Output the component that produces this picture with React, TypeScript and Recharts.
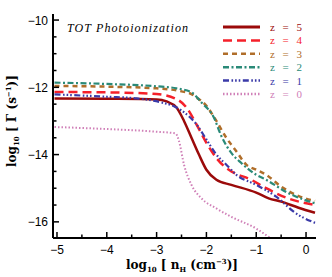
import React from "react";
import { LineChart, Line, XAxis, YAxis, Legend, Customized } from "recharts";

const seriesNames = ["z = 5", "z = 4", "z = 3", "z = 2", "z = 1", "z = 0"];
const seriesColors = ["#9b0a0a", "#f5202a", "#b06e2a", "#2a8a78", "#3a3aa8", "#d080b8"];

const z5X = [-5.05, -4, -3, -2.8, -2.6, -2.45, -2.3, -2.15, -2.0, -1.8, -1.5, -1.0, -0.75, -0.5, -0.15, 0.18];
const z5Y = [-12.33, -12.34, -12.36, -12.42, -12.6, -13.0, -13.5, -14.0, -14.45, -14.75, -14.9, -15.13, -15.3, -15.4, -15.58, -15.73];

const z4X = [-5.05, -4, -3, -2.6, -2.4, -2.2, -2.0, -1.8, -1.6, -1.5, -1.1, -0.8, -0.4, 0.18];
const z4Y = [-12.14, -12.15, -12.2, -12.35, -12.6, -13.1, -13.65, -14.1, -14.4, -14.5, -14.75, -15.0, -15.28, -15.5];

const z3X = [-5.05, -4, -3, -2.5, -2.3, -2.2, -2.0, -1.8, -1.6, -1.4, -1.2, -1.0, -0.8, -0.5, -0.2, 0.18];
const z3Y = [-11.96, -11.98, -12.03, -12.12, -12.2, -12.3, -12.55, -13.0, -13.5, -13.9, -14.3, -14.45, -14.6, -14.95, -15.2, -15.38];

const z2X = [-5.05, -4, -3, -2.6, -2.3, -2.1, -1.85, -1.7, -1.5, -1.3, -1.0, -0.8, -0.35, 0.18];
const z2Y = [-11.86, -11.9, -11.97, -12.03, -12.15, -12.45, -12.9, -13.45, -13.95, -14.25, -14.6, -14.75, -15.15, -15.45];

const z1X = [-5.05, -4, -3.4, -2.9, -2.6, -2.4, -2.2, -2.0, -1.8, -1.6, -1.4, -1.0, -0.6, -0.2, 0.18];
const z1Y = [-12.21, -12.28, -12.33, -12.45, -12.6, -12.8, -13.1, -13.55, -14.0, -14.3, -14.6, -14.9, -15.25, -15.75, -16.03];

const z0X = [-5.05, -4, -3, -2.62, -2.55, -2.45, -2.3, -2.1, -1.8, -1.5, -1.0, -0.7];
const z0Y = [-13.18, -13.24, -13.32, -13.37, -13.6, -14.3, -14.9, -15.3, -15.6, -15.85, -16.2, -16.5];

const xTicks = [-5, -4.5, -4, -3.5, -3, -2.5, -2, -1.5, -1, -0.5, 0];
const yTicks = [-16, -15.5, -15, -14.5, -14, -13.5, -13, -12.5, -12, -11.5, -11, -10.5, -10];
const xLabelTicks = [-5, -4, -3, -2, -1, 0];
const yLabelTicks = [-16, -14, -12, -10];

const seriesXs = [z5X, z4X, z3X, z2X, z1X, z0X];
const seriesYs = [z5Y, z4Y, z3Y, z2Y, z1Y, z0Y];

const dashes = ["", "9 5", "5 4", "6 2.5 2 2.5", "6 2.5 1.6 2 1.6 2 1.6 2.5", "1.5 2"];
const widths = [2.5, 2.5, 2.5, 2.2, 2.2, 2];

const build = (xs: number[], ys: number[]) => xs.map((x, i) => ({ x, y: ys[i] }));

const fmt = (v: number) => (v < 0 ? "\u2212" + Math.abs(v) : String(v));

const BottomTick = (props: any) => {
  const { x, y, payload } = props;
  const v = payload.value;
  const major = xLabelTicks.includes(v);
  return (
    <g>
      <line x1={x} x2={x} y1={y} y2={y - (major ? 6 : 3.5)} stroke="#000" strokeWidth={1.5} />
      {major && (
        <text x={x} y={y + 16} textAnchor="middle" fontSize={12} fontFamily="'Liberation Sans', sans-serif" fill="#000">
          {fmt(v)}
        </text>
      )}
    </g>
  );
};

const TopTick = (props: any) => {
  const { x, y, payload } = props;
  const major = xLabelTicks.includes(payload.value);
  return <line x1={x} x2={x} y1={y} y2={y + (major ? 6 : 3.5)} stroke="#000" strokeWidth={1.5} />;
};

const LeftTick = (props: any) => {
  const { x, y, payload } = props;
  const v = payload.value;
  const major = yLabelTicks.includes(v);
  return (
    <g>
      <line x1={x} x2={x + (major ? 6 : 3.5)} y1={y} y2={y} stroke="#000" strokeWidth={1.5} />
      {major && (
        <text x={x - 5} y={y + 4.5} textAnchor="end" fontSize={12} fontFamily="'Liberation Sans', sans-serif" fill="#000">
          {fmt(v)}
        </text>
      )}
    </g>
  );
};

const RightTick = (props: any) => {
  const { x, y, payload } = props;
  const major = yLabelTicks.includes(payload.value);
  return <line x1={x} x2={x - (major ? 6 : 3.5)} y1={y} y2={y} stroke="#000" strokeWidth={1.5} />;
};

const LegendContent = () => (
  <svg width={100} height={84} style={{ display: "block" }}>
    {seriesNames.map((name, i) => {
      const cy = 6 + i * 13.4;
      return (
        <g key={name}>
          <line x1={0} x2={37} y1={cy} y2={cy} stroke={seriesColors[i]} strokeWidth={i === 0 ? 3 : 2.5} strokeDasharray={dashes[i] || undefined} />
          <text x={47} y={cy + 4} fontSize={11} fontFamily="'Liberation Serif', serif" fill={seriesColors[i]} textLength={32} lengthAdjust="spacing">
            {name}
          </text>
        </g>
      );
    })}
  </svg>
);

const Title = () => (
  <text x={67} y={32} fontSize={12} fontStyle="italic" fontFamily="'Liberation Serif', serif" fill="#000" textLength={121} lengthAdjust="spacing">
    TOT Photoionization
  </text>
);

const XLabel = () => (
  <text x={182} y={269} textAnchor="middle" fontSize={12} fontWeight="bold" fontFamily="'DejaVu Serif', serif" fill="#000">
    log<tspan fontSize={7} dy={3}>10</tspan>
    <tspan dy={-3}> [ n</tspan>
    <tspan fontSize={7} dy={3}>H</tspan>
    <tspan dy={-3}> (cm</tspan>
    <tspan fontSize={7} dy={-5}>−3</tspan>
    <tspan dy={5}>)]</tspan>
  </text>
);

const YLabel = () => (
  <text x={0} y={0} transform="translate(16,121) rotate(-90)" textAnchor="middle" fontSize={12} fontWeight="bold" fontFamily="'DejaVu Serif', serif" fill="#000">
    log<tspan fontSize={7} dy={3}>10</tspan>
    <tspan dy={-3}> [ Γ (s</tspan>
    <tspan fontSize={7} dy={-5}>−1</tspan>
    <tspan dy={5}>)]</tspan>
  </text>
);

export default function App() {
  return (
    <div style={{ position: "absolute", left: 0, top: 0, background: "#fff" }}>
      <LineChart width={332} height={277} margin={{ top: 14, right: 16, bottom: 9, left: 8 }}>
        <XAxis
          dataKey="x"
          type="number"
          domain={[-5.08, 0.2]}
          allowDataOverflow
          ticks={xTicks}
          interval={0}
          tickSize={0}
          tickMargin={0}
          tick={<BottomTick />}
          height={30}
          axisLine={{ stroke: "#000", strokeWidth: 2 }}
          label={{ content: () => <XLabel /> }}
        />
        <XAxis
          xAxisId="top"
          orientation="top"
          dataKey="x"
          type="number"
          domain={[-5.08, 0.2]}
          allowDataOverflow
          ticks={xTicks}
          interval={0}
          tickSize={0}
          tickMargin={0}
          tick={<TopTick />}
          height={0}
          axisLine={{ stroke: "#000", strokeWidth: 2 }}
        />
        <YAxis
          dataKey="y"
          type="number"
          domain={[-16.48, -9.82]}
          allowDataOverflow
          ticks={yTicks}
          interval={0}
          tickSize={0}
          tickMargin={0}
          tick={<LeftTick />}
          width={45}
          axisLine={{ stroke: "#000", strokeWidth: 2 }}
          label={{ content: () => <YLabel /> }}
        />
        <YAxis
          yAxisId="right"
          orientation="right"
          dataKey="y"
          type="number"
          domain={[-16.48, -9.82]}
          allowDataOverflow
          ticks={yTicks}
          interval={0}
          tickSize={0}
          tickMargin={0}
          tick={<RightTick />}
          width={0}
          axisLine={{ stroke: "#000", strokeWidth: 2 }}
        />
        {seriesNames.map((name, i) => (
          <Line
            key={name}
            name={name}
            data={build(seriesXs[i], seriesYs[i])}
            dataKey="y"
            type="monotone"
            stroke={seriesColors[i]}
            strokeWidth={widths[i]}
            strokeDasharray={dashes[i] || undefined}
            dot={false}
            activeDot={false}
            isAnimationActive={false}
          />
        ))}
        <Legend
          layout="vertical"
          align="center"
          verticalAlign="middle"
          content={<LegendContent />}
          wrapperStyle={{ position: "absolute", left: 223, top: 21, width: 100, height: 84 }}
        />
        <Customized component={<Title />} />
      </LineChart>
    </div>
  );
}
